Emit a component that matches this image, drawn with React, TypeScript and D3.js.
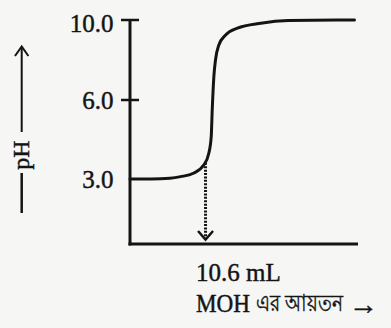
import React from 'react';
import * as d3 from 'd3';

// Titration curve data
const volumes = [0, 3, 5.6, 7.1, 8.9, 10.35, 11.06, 11.4, 11.54, 11.77, 12.0, 12.47, 13.42, 15.07, 18.36, 22.2, 31.5];
const pHValues = [3.0, 3.0, 3.03, 3.09, 3.22, 3.53, 3.98, 4.61, 5.62, 7.17, 8.0, 8.75, 9.25, 9.59, 9.84, 9.97, 10.0];

const yTicks = [3, 6, 10];
const yTickLabels = ['3.0', '6.0', '10.0'];
const endpointVolume = 10.6;
const endpointLabel = '10.6 mL';
const xAxisLabelLatin = 'MOH';
const xAxisLabelBengali = 'এর আয়তন';
const xAxisArrow = '→';
const yAxisLabel = 'pH';

const W = 391;
const H = 328;
const FONT = '"Liberation Serif", "Times New Roman", serif';
const INK = '#141414';

export default function App() {
  const x = d3.scaleLinear().domain([0, 32]).range([130, 358]);
  // axis in the picture is not evenly scaled: ticks are spaced equally
  const y = d3.scaleLinear().domain([0, 3, 6, 10]).range([244, 179, 100, 20]);

  const data = volumes.map((v, i) => ({ v, p: pHValues[i] }));
  const line = d3
    .line<{ v: number; p: number }>()
    .x((d) => x(d.v))
    .y((d) => y(d.p))
    .curve(d3.curveMonotoneX);

  // pH on curve at the end point (for the dotted drop line)
  const i = d3.bisector((d: { v: number }) => d.v).left(data, endpointVolume);
  const a = data[i - 1];
  const b = data[i];
  const t = (endpointVolume - a.v) / (b.v - a.v);
  const endpointPH = a.p + t * (b.p - a.p);

  const ex = x(endpointVolume);
  const axisY = y(0);
  const axisX = x(0);
  const textStyle = { fontFamily: FONT, fill: INK, stroke: INK, strokeWidth: 0.45 };

  return (
    <svg
      width={W}
      height={H}
      style={{ position: 'fixed', left: 0, top: 0, background: '#f6f6f5' }}
    >
      <rect width={W} height={H} fill="#f6f6f5" />
      {/* Y axis */}
      <line x1={axisX} x2={axisX} y1={y(10)} y2={axisY + 1.5} stroke={INK} strokeWidth={3} />
      {/* X axis */}
      <line x1={axisX - 1.5} x2={358} y1={axisY} y2={axisY} stroke={INK} strokeWidth={3} />
      {/* ticks */}
      {yTicks.map((tk, k) => (
        <g key={tk}>
          {tk !== 3 && (
            <line x1={axisX - 9} x2={axisX + 9} y1={y(tk)} y2={y(tk)} stroke={INK} strokeWidth={2.5} />
          )}
          <text
            x={113.5}
            y={y(tk) + (tk === 10 ? 3 : 0)}
            textAnchor="end"
            dominantBaseline="central"
            fontSize={25}
            style={textStyle}
          >
            {yTickLabels[k]}
          </text>
        </g>
      ))}
      {/* curve */}
      <path d={line(data) || ''} fill="none" stroke={INK} strokeWidth={3} strokeLinecap="round" />
      {/* dotted drop line */}
      <line
        x1={ex}
        x2={ex}
        y1={y(endpointPH) + 2}
        y2={axisY - 5}
        stroke={INK}
        strokeWidth={3}
        strokeDasharray="2 1.4"
      />
      <polyline
        points={`${ex - 7.5},${axisY - 13} ${ex},${axisY - 4.5} ${ex + 7.5},${axisY - 13}`}
        fill="none"
        stroke={INK}
        strokeWidth={2.5}
      />
      {/* end point label */}
      <text x={196} y={281} fontSize={25} style={textStyle}>
        {endpointLabel}
      </text>
      {/* x axis title: MOH এর আয়তন → */}
      <text
        x={196}
        y={312}
        fontSize={25}
        textLength={54}
        lengthAdjust="spacingAndGlyphs"
        style={textStyle}
      >
        {xAxisLabelLatin}
      </text>
      <text transform="translate(256,311) scale(0.8,1)" fontSize={23} style={textStyle}>
        {xAxisLabelBengali}
      </text>
      <text transform="translate(349,314) scale(1.05,1)" fontSize={28} style={textStyle}>
        {xAxisArrow}
      </text>
      {/* y label: — pH → */}
      <line x1={21.7} x2={21.7} y1={173} y2={213} stroke={INK} strokeWidth={2.5} />
      <text
        transform="translate(28.5,155) rotate(-90)"
        textAnchor="middle"
        fontSize={24}
        style={textStyle}
      >
        {yAxisLabel}
      </text>
      <line x1={21.7} x2={21.7} y1={132} y2={47} stroke={INK} strokeWidth={2} />
      <polyline points="15,56 21.7,46.5 28.4,56" fill="none" stroke={INK} strokeWidth={2} />
    </svg>
  );
}
